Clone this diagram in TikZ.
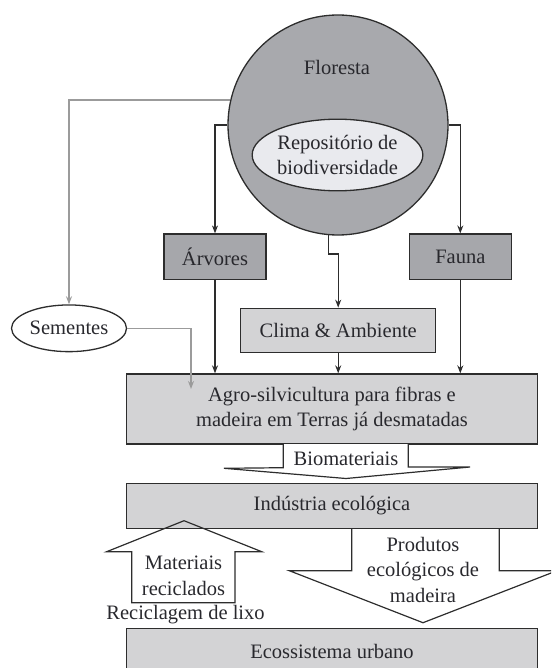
\documentclass[tikz,border=0pt]{standalone}
\usepackage{fontspec}
\setmainfont{Liberation Serif}
\usetikzlibrary{arrows.meta,shapes.geometric,calc}
\definecolor{cgray}{RGB}{168,169,173}
\definecolor{dgray}{RGB}{166,167,171}
\definecolor{lgray}{RGB}{211,211,213}
\definecolor{egray}{RGB}{233,234,238}
\definecolor{lnc}{RGB}{45,45,45}
\definecolor{gln}{RGB}{155,155,155}
\definecolor{txt}{RGB}{40,40,45}
\tikzset{
  every node/.style={font=\fontsize{20.5}{25.5}\selectfont, text=txt},
  darkbox/.style={draw=lnc, line width=1.3pt, fill=dgray, inner sep=0pt},
  lightbox/.style={draw=lnc, line width=1.3pt, fill=lgray, inner sep=0pt, align=center},
  conn/.style={draw=lnc, line width=1.2pt, -{Stealth[length=8pt,width=6pt]}},
  gconn/.style={draw=gln, line width=1.4pt, -{Stealth[length=8pt,width=6pt]}},
  blockar/.style={draw=lnc, line width=1.2pt, line join=miter},
}
\begin{document}
\begin{tikzpicture}[x=1pt,y=-1pt]
\useasboundingbox (0,0) rectangle (551,668);
\clip (0,0) rectangle (551,668);
% forest
\node[circle, draw=lnc, line width=1.3pt, fill=cgray, minimum size=220pt, inner sep=0pt] (flor) at (338,125) {};
\node (florlbl) at (337,67) {Floresta};
\node[ellipse, draw=lnc, line width=1.3pt, fill=egray, minimum width=163pt, minimum height=71.6pt, inner sep=0pt, align=center] (repo) at (337.5,155) {Repositório de\\biodiversidade};
% boxes
\node[darkbox, minimum width=102pt, minimum height=45.3pt] (arv) at (215,256.7) {Árvores};
\node[darkbox, minimum width=102pt, minimum height=45.3pt] (fau) at (460.3,256.7) {Fauna};
\node[lightbox, minimum width=195pt, minimum height=44pt] (clima) at (338.2,330.3) {Clima \& Ambiente};
\node[lightbox, minimum width=411pt, minimum height=70pt] (agro) at (332,409) {Agro-silvicultura para fibras e\\madeira em Terras já desmatadas};
\node[lightbox, minimum width=411pt, minimum height=45pt] (ind) at (332,505.8) {Indústria ecológica};
\node[lightbox, minimum width=411pt, minimum height=47pt] (eco) at (332,651.8) {Ecossistema urbano};
\node[ellipse, draw=lnc, line width=1.3pt, fill=white, minimum width=115pt, minimum height=46.7pt, inner sep=0pt] (sem) at (69,328.3) {Sementes};
\coordinate (semtip) at (191,389);
% connectors
\draw[gconn] (flor.167) -| (sem.north);
\draw[gconn] (sem.east) -| (semtip);
\draw[conn] (flor.180) -| (arv.north);
\draw[conn] (flor.0) -| (fau.north);
\draw[conn] (flor.265) -- ++(0,18.7) -| (clima.north);
\draw[conn] (arv.south) -- (arv.south |- agro.north);
\draw[conn] (clima.south) -- (clima.south |- agro.north);
\draw[conn] (fau.south) -- (fau.south |- agro.north);
% block arrow: Biomateriais
\draw[blockar, fill=white] (283.3,444) -- (283.3,467.7) -- (224,468.3) -- (346,478.5) -- (470,467) -- (408.3,467) -- (408.3,444);
\node (bio) at (346,459) {Biomateriais};
% block arrow: Materiais reciclados (up)
\draw[blockar] (131.7,602.7) -- (131.7,551.7) -- (106.7,551.7) -- (184,520.7) -- (261.7,551.7) -- (235,551.7) -- (235,602.7) -- cycle;
\node[align=center] (mat) at (183.5,576) {Materiais\\reciclados};
\node (recic) at (185.5,615) {Reciclagem de lixo};
% block arrow: Produtos (down)
\draw[blockar] (351.7,528.3) -- (351.7,570.7) -- (289.3,570.7) -- (423,622.7) -- (557,570.7) -- (499.3,570.7) -- (499.3,528.3);
\node[align=center] (prod) at (423,569.5) {Produtos\\ecológicos de\\madeira};
\end{tikzpicture}
\end{document}
